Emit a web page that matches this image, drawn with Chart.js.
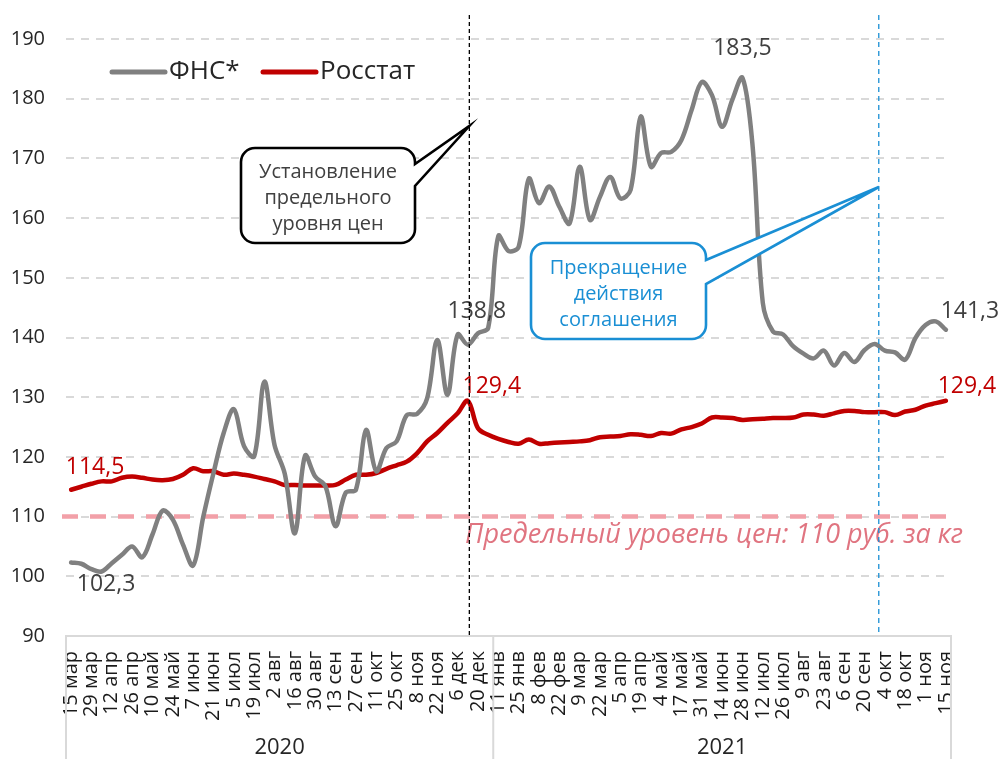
<!DOCTYPE html>
<html>
<head>
<meta charset="utf-8">
<script src="https://cdn.jsdelivr.net/npm/chart.js@4.4.1/dist/chart.umd.min.js"></script>
<style>
html,body{margin:0;padding:0;background:#fff}
#wrap{width:1003px;height:759px}
</style>
</head>
<body>
<div id="wrap"><canvas id="c" width="1003" height="759"></canvas></div>
<script>
/* ===== данные ===== */
const TICKS_2020 = ['15 мар','29 мар','12 апр','26 апр','10 май','24 май','7 июн','21 июн','5 июл','19 июл',
  '2 авг','16 авг','30 авг','13 сен','27 сен','11 окт','25 окт','8 ноя','22 ноя','6 дек','20 дек'];
const TICKS_2021 = ['11 янв','25 янв','8 фев','22 фев','9 мар','22 мар','5 апр','19 апр','4 май','17 май',
  '31 май','14 июн','28 июн','12 июл','26 июл','9 авг','23 авг','6 сен','20 сен','4 окт','18 окт','1 ноя','15 ноя'];
const YEARS = ['2020','2021'];

const FNS = [102.3,102.1,101.2,100.8,102.2,103.6,105.0,103.2,107.0,111.0,
  109.5,105.3,101.8,110.0,117.3,124.0,128.0,121.8,120.1,132.6,
  122.0,117.2,107.2,120.2,116.7,115.1,108.4,114.0,114.5,124.5,
  117.6,121.5,122.6,127.0,127.2,129.8,139.6,130.4,140.5,138.8,
  140.7,141.6,157.0,154.5,155.2,166.6,162.5,165.3,161.9,159.1,
  168.6,159.7,163.6,166.9,163.3,164.7,177.0,168.6,170.9,171.1,
  173.1,178.1,182.8,180.6,175.3,179.8,183.5,172.0,145.8,141.0,
  140.5,138.5,137.3,136.5,137.8,135.3,137.4,135.9,137.9,138.9,
  137.8,137.5,136.3,139.9,142.1,142.7,141.3];

const ROSSTAT = [114.5,115.0,115.5,115.9,115.9,116.5,116.7,116.5,116.2,116.1,
  116.3,117.0,118.1,117.6,117.6,117.0,117.2,117.0,116.7,116.3,
  115.9,115.3,115.3,115.2,115.2,115.2,115.3,116.2,117.0,117.0,
  117.3,118.0,118.6,119.2,120.6,122.6,124.0,125.7,127.3,129.4,
  124.8,123.7,123.0,122.5,122.2,122.9,122.2,122.3,122.4,122.5,
  122.6,122.8,123.3,123.4,123.5,123.8,123.7,123.5,124.0,123.9,
  124.6,125.0,125.6,126.6,126.6,126.5,126.2,126.3,126.4,126.5,
  126.5,126.6,127.1,127.1,126.9,127.3,127.7,127.7,127.5,127.5,
  127.5,127.0,127.6,127.9,128.6,129.0,129.4];

const PRICE_CAP = 110;
const CAP_TEXT = 'Предельный уровень цен: 110 руб. за кг';
const START_IDX = 39.15;   // установление предельного уровня
const END_IDX = 79.4;      // прекращение соглашения

const FONT = '"Open Sans", Lato, sans-serif';
const GRAY = '#808080', RED = '#c00000', BLUE = '#1a8fd4';

// категории: подпись через одну неделю
const labels = [];
TICKS_2020.forEach(t => { labels.push(t); labels.push(''); });
TICKS_2021.forEach((t,i) => { labels.push(t); if (i < TICKS_2021.length-1) labels.push(''); });
const split2020 = TICKS_2020.length*2;   // первая категория 2021

/* ===== подписи, выноски, линии ===== */
function callout(ctx, b, tip, color, lines){
  const r = 14;
  ctx.save();
  ctx.beginPath();
  ctx.moveTo(b.l + r, b.t);
  ctx.lineTo(b.r - r, b.t);
  ctx.arcTo(b.r, b.t, b.r, b.t + r, r);
  ctx.lineTo(b.r, b.p1);
  ctx.lineTo(tip.x, tip.y);
  ctx.lineTo(b.r, b.p2);
  ctx.lineTo(b.r, b.b - r);
  ctx.arcTo(b.r, b.b, b.r - r, b.b, r);
  ctx.lineTo(b.l + r, b.b);
  ctx.arcTo(b.l, b.b, b.l, b.b - r, r);
  ctx.lineTo(b.l, b.t + r);
  ctx.arcTo(b.l, b.t, b.l + r, b.t, r);
  ctx.closePath();
  ctx.fillStyle = '#fff'; ctx.fill();
  ctx.lineWidth = 2.6; ctx.strokeStyle = color; ctx.lineJoin = 'miter'; ctx.stroke();
  ctx.fillStyle = lines.color; ctx.font = '20px ' + FONT;
  ctx.textAlign = 'center'; ctx.textBaseline = 'middle';
  lines.text.forEach((s,i) => ctx.fillText(s, (b.l + b.r)/2, lines.y0 + i*26));
  ctx.restore();
}

const annot = {
  id: 'annot',
  beforeDatasetsDraw(chart){
    const {ctx, chartArea:a, scales:{x,y}} = chart;
    const yc = y.getPixelForValue(PRICE_CAP);
    ctx.save();
    ctx.strokeStyle = '#f2a0a8'; ctx.lineWidth = 4.5; ctx.setLineDash([16,12]);
    ctx.beginPath(); ctx.moveTo(a.left - 4, yc); ctx.lineTo(a.right - 3, yc); ctx.stroke();
    ctx.restore();
  },
  afterDatasetsDraw(chart){
    const {ctx, chartArea:a, scales:{x,y}} = chart;
    const px = i => x.getPixelForValue(i), py = v => y.getPixelForValue(v);

    // подпись предельного уровня
    ctx.save();
    ctx.fillStyle = '#e07480'; ctx.font = 'italic 27px ' + FONT;
    ctx.textAlign = 'right'; ctx.textBaseline = 'middle';
    ctx.fillText(CAP_TEXT, a.right + 12, py(PRICE_CAP) + 19);
    ctx.restore();

    // значения
    const lab = (txt, cx, cy, color) => {
      ctx.fillStyle = color; ctx.font = '23px ' + FONT;
      ctx.textAlign = 'center'; ctx.textBaseline = 'middle';
      ctx.fillText(txt, cx, cy);
    };
    const fmtV = v => v.toFixed(1).replace('.', ',');
    const last = FNS.length - 1;
    ctx.save();
    lab(fmtV(FNS[0]), px(0) + 35, py(FNS[0]) + 22, '#404040');
    lab(fmtV(ROSSTAT[0]), px(0) + 24, py(ROSSTAT[0]) - 22, RED);
    lab(fmtV(FNS[39]), px(39) + 9, py(FNS[39]) - 33, '#404040');
    lab(fmtV(ROSSTAT[39]), px(39) + 24, py(ROSSTAT[39]) - 14, RED);
    lab(fmtV(FNS[66]), px(66), py(FNS[66]) - 29, '#404040');
    lab(fmtV(FNS[last]), px(last) + 24, py(FNS[last]) - 18, '#404040');
    lab(fmtV(ROSSTAT[last]), px(last) + 21, py(ROSSTAT[last]) - 14, RED);
    ctx.restore();

    // вертикальные линии
    const xs = px(START_IDX), xe = px(END_IDX);
    ctx.save();
    ctx.lineWidth = 1.3;
    ctx.strokeStyle = '#000'; ctx.setLineDash([4,3]);
    ctx.beginPath(); ctx.moveTo(xs, 15); ctx.lineTo(xs, a.bottom); ctx.stroke();
    ctx.strokeStyle = BLUE; ctx.setLineDash([5,4]);
    ctx.beginPath(); ctx.moveTo(xe, 15); ctx.lineTo(xe, a.bottom); ctx.stroke();
    ctx.restore();

    // выноски
    callout(ctx, {l:241, r:415, t:148, b:243, p1:164, p2:186}, {x:xs, y:126}, '#000',
      {color:'#404040', y0:172, text:['Установление','предельного','уровня цен']});
    callout(ctx, {l:531, r:706, t:243, b:339, p1:260, p2:284}, {x:xe, y:187}, BLUE,
      {color:BLUE, y0:268, text:['Прекращение','действия','соглашения']});

    // легенда
    ctx.save();
    ctx.lineCap = 'round'; ctx.lineWidth = 5;
    ctx.font = '26px ' + FONT; ctx.textBaseline = 'middle'; ctx.textAlign = 'left';
    chart.data.datasets.forEach((d,i) => {
      const x0 = [112, 263][i];
      ctx.strokeStyle = d.borderColor;
      ctx.beginPath(); ctx.moveTo(x0, 72); ctx.lineTo(x0 + 53, 72); ctx.stroke();
      ctx.fillStyle = '#262626';
      ctx.fillText(d.label, x0 + 57, 72);
    });
    ctx.restore();
  },
  afterDraw(chart){
    const {ctx, chartArea:a, scales:{x}} = chart;
    const H = chart.height;
    const bounds = [a.left, x.getPixelForValue(split2020 - 0.5), a.right];
    ctx.save();
    ctx.strokeStyle = '#d9d9d9'; ctx.lineWidth = 2;
    bounds.forEach(b => { ctx.beginPath(); ctx.moveTo(b, a.bottom); ctx.lineTo(b, H); ctx.stroke(); });
    ctx.fillStyle = '#262626'; ctx.font = '22px ' + FONT;
    ctx.textAlign = 'center'; ctx.textBaseline = 'middle';
    YEARS.forEach((yr,i) => ctx.fillText(yr, (bounds[i] + bounds[i+1])/2, 748));
    ctx.restore();
  }
};

/* ===== график ===== */
const mk = (label, data, color) => ({
  label, data, borderColor: color, backgroundColor: color, borderWidth: 4.5,
  tension: 0.35, pointRadius: 0, borderCapStyle: 'round', borderJoinStyle: 'round', fill: false
});

new Chart(document.getElementById('c'), {
  type: 'line',
  data: { labels, datasets: [ mk('ФНС*', FNS, GRAY), mk('Росстат', ROSSTAT, RED) ] },
  options: {
    responsive: false, animation: false,
    layout: { padding: { top: 39, right: 52, left: 0, bottom: 0 } },
    plugins: { legend: { display: false }, tooltip: { enabled: false } },
    scales: {
      x: {
        offset: true,
        grid: { display: false, drawTicks: false },
        border: { display: true, color: '#d9d9d9', width: 2 },
        ticks: { autoSkip: false, maxRotation: 90, minRotation: 90, padding: 15,
                 color: '#1a1a1a', font: { family: FONT, size: 20 } },
        afterFit: s => { s.height = 123; }
      },
      y: {
        min: 90, max: 190,
        grid: { color: '#d9d9d9', lineWidth: 2, drawTicks: false },
        border: { display: false, dash: [8,7] },
        ticks: { stepSize: 10, padding: 21, color: '#262626', font: { family: FONT, size: 20 } },
        afterFit: s => { s.width = 66; }
      }
    }
  },
  plugins: [annot]
});
</script>
</body>
</html>
